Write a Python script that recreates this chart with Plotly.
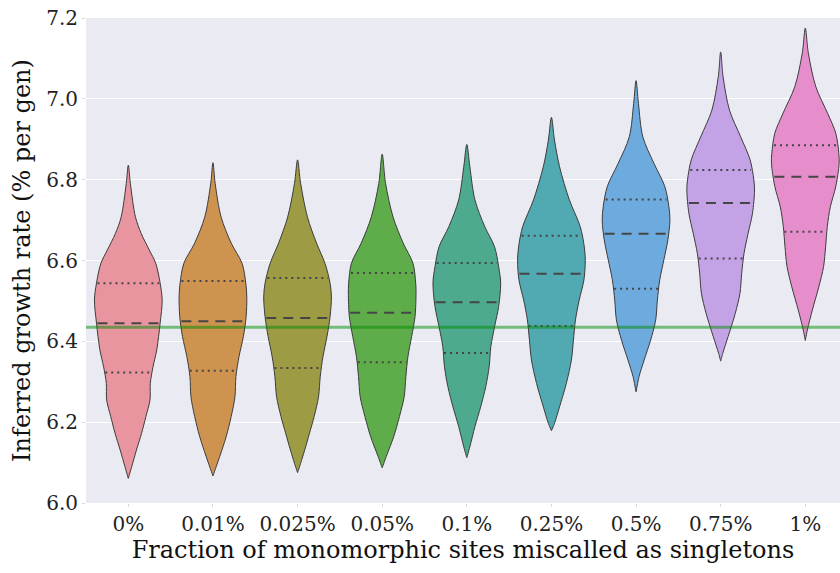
import numpy as np
import plotly.graph_objects as go

# Miscall rate categories on the x axis
categories = ["0%", "0.01%", "0.025%", "0.05%", "0.1%", "0.25%", "0.5%", "0.75%", "1%"]

# Quartiles of the inferred growth rate (% per generation)
q1 = [6.323, 6.327, 6.334, 6.348, 6.371, 6.438, 6.530, 6.605, 6.671]
median = [6.445, 6.450, 6.458, 6.471, 6.497, 6.567, 6.666, 6.742, 6.807]
q3 = [6.544, 6.549, 6.557, 6.569, 6.594, 6.661, 6.751, 6.824, 6.885]

# True growth rate used in the simulations
true_rate = 6.435

# Kernel density outlines: levels (top to bottom) and relative density at each level
outline_levels = [
    [6.836, 6.791, 6.708, 6.667, 6.626, 6.593, 6.544, 6.502, 6.445, 6.379, 6.337, 6.296, 6.255, 6.214, 6.172, 6.131, 6.090, 6.061],
    [6.842, 6.791, 6.708, 6.643, 6.593, 6.544, 6.510, 6.461, 6.412, 6.362, 6.313, 6.263, 6.214, 6.164, 6.115, 6.067],
    [6.849, 6.791, 6.708, 6.643, 6.593, 6.544, 6.510, 6.461, 6.412, 6.362, 6.313, 6.263, 6.214, 6.172, 6.131, 6.098, 6.075],
    [6.863, 6.791, 6.708, 6.643, 6.593, 6.544, 6.519, 6.461, 6.412, 6.362, 6.313, 6.263, 6.214, 6.164, 6.115, 6.087],
    [6.887, 6.832, 6.750, 6.684, 6.634, 6.585, 6.544, 6.486, 6.436, 6.387, 6.337, 6.288, 6.238, 6.189, 6.139, 6.112],
    [6.954, 6.898, 6.832, 6.750, 6.684, 6.634, 6.601, 6.552, 6.502, 6.453, 6.403, 6.354, 6.296, 6.238, 6.197, 6.179],
    [7.045, 6.989, 6.906, 6.840, 6.783, 6.733, 6.700, 6.651, 6.601, 6.552, 6.502, 6.453, 6.403, 6.354, 6.313, 6.275],
    [7.116, 7.055, 6.972, 6.906, 6.849, 6.799, 6.774, 6.717, 6.667, 6.618, 6.568, 6.519, 6.469, 6.412, 6.370, 6.351],
    [7.175, 7.113, 7.030, 6.964, 6.915, 6.865, 6.840, 6.783, 6.733, 6.684, 6.634, 6.585, 6.535, 6.478, 6.428, 6.402],
]
outline_density = [
    [0, .06, .21, .38, .62, .81, .94, 1, .94, .84, .73, .65, .64, .52, .39, .24, .10, 0],
    [0, .065, .24, .54, .86, .97, 1, .98, .90, .77, .68, .65, .54, .39, .20, 0],
    [0, .09, .29, .56, .81, .96, 1, .96, .87, .75, .67, .62, .49, .35, .21, .09, 0],
    [0, .10, .32, .62, .91, .99, 1, .97, .87, .76, .70, .65, .51, .34, .12, 0],
    [0, .09, .24, .53, .82, .94, 1, .94, .82, .71, .66, .56, .41, .24, .09, 0],
    [0, .09, .24, .53, .85, .97, 1, .96, .82, .71, .65, .59, .44, .24, .09, 0],
    [0, .07, .20, .53, .85, .97, 1, .94, .82, .70, .63, .58, .43, .24, .09, 0],
    [0, .07, .26, .59, .87, .98, 1, .94, .81, .69, .62, .57, .43, .22, .06, 0],
    [0, .09, .31, .66, .90, .99, 1, .90, .74, .65, .60, .54, .40, .21, .06, 0],
]

colors = ["#e8959f", "#cf9350", "#9e9b45", "#5fac4b", "#4daa8f",
          "#51a9b2", "#6dabdf", "#c4a2e6", "#e58ecb"]

HALF_WIDTH = 0.4
EDGE = "#3c3c3c"

fig = go.Figure()

for i, cat in enumerate(categories):
    lv = np.array(outline_levels[i])
    hw = np.array(outline_density[i]) * HALF_WIDTH
    xs = np.concatenate([i + hw, (i - hw)[::-1]])
    ys = np.concatenate([lv, lv[::-1]])
    fig.add_trace(go.Scatter(
        x=xs, y=ys, mode="lines", fill="toself", fillcolor=colors[i],
        line=dict(color=EDGE, width=1, shape="spline", smoothing=0.9),
        hoverinfo="skip", showlegend=False,
    ))
    # inner quartile lines span the violin at their level
    asc_lv, asc_hw = lv[::-1], hw[::-1]
    for val, dash, width in ((q1[i], "2px,4px", 2), (q3[i], "2px,4px", 2),
                             (median[i], "10px,7px", 2)):
        w = float(np.interp(val, asc_lv, asc_hw)) * 0.97
        fig.add_trace(go.Scatter(
            x=[i - w, i + w], y=[val, val], mode="lines",
            line=dict(color="#454545", width=width, dash=dash),
            hoverinfo="skip", showlegend=False,
        ))

fig.add_hline(y=true_rate, line=dict(color="rgba(0,140,0,0.5)", width=3), layer="above")

FONT = "DejaVu Serif"
fig.update_layout(
    width=840, height=573,
    margin=dict(l=86, r=0, t=18, b=70),
    paper_bgcolor="white",
    plot_bgcolor="#eaeaf2",
    font=dict(family=FONT, color="#1a1a1a"),
    xaxis=dict(
        range=[-0.5, 8.41],
        tickmode="array", tickvals=list(range(len(categories))), ticktext=categories,
        showgrid=False, zeroline=False, showline=False,
        ticks="outside", ticklen=3, tickcolor="#d8d8d8",
        tickfont=dict(family=FONT, size=20, color="#222222"),
        title=dict(text="Fraction of monomorphic sites miscalled as singletons",
                   font=dict(family=FONT, size=24, color="#111111"), standoff=6),
    ),
    yaxis=dict(
        range=[6.0, 7.2],
        tickmode="array", tickvals=[6.0, 6.2, 6.4, 6.6, 6.8, 7.0, 7.2],
        ticktext=["6.0", "6.2", "6.4", "6.6", "6.8", "7.0", "7.2"],
        showgrid=True, gridcolor="white", gridwidth=1, zeroline=False, showline=False,
        ticks="outside", ticklen=3, tickcolor="#d8d8d8",
        tickfont=dict(family=FONT, size=20, color="#222222"),
        title=dict(text="Inferred growth rate (% per gen)",
                   font=dict(family=FONT, size=24, color="#111111"), standoff=8),
    ),
)

fig.write_html("out.html")
